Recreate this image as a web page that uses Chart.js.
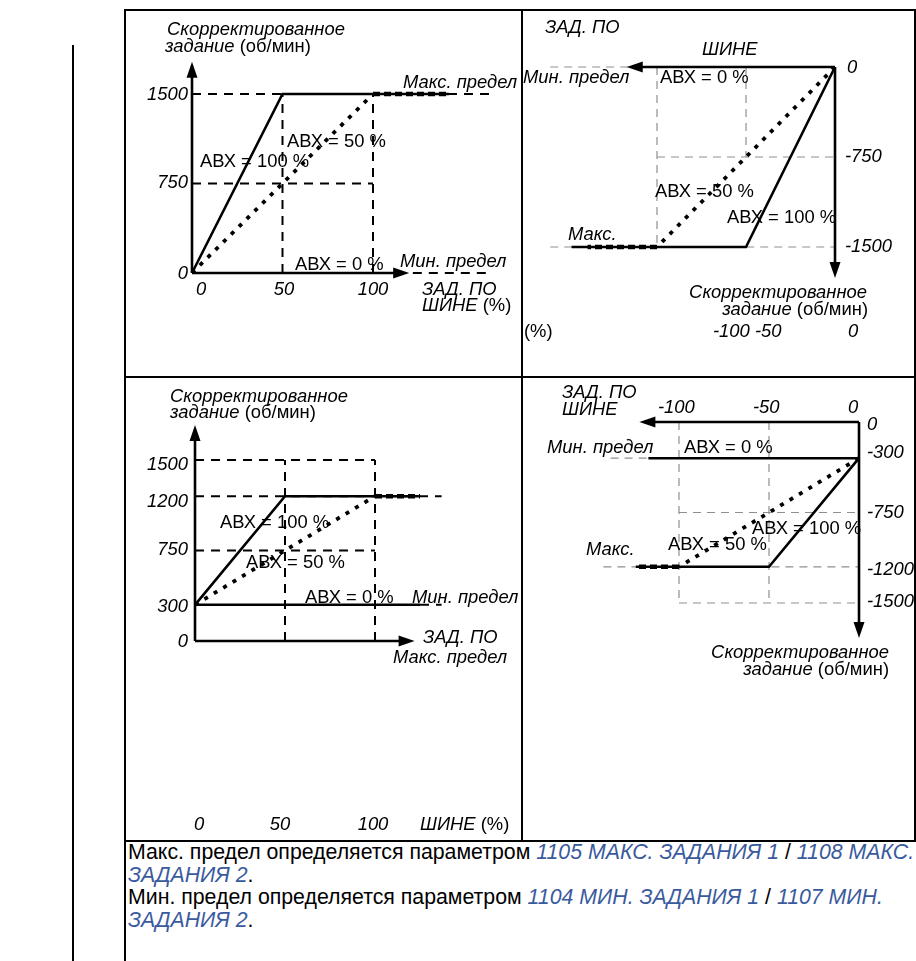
<!DOCTYPE html>
<html>
<head>
<meta charset="utf-8">
<script src="https://cdn.jsdelivr.net/npm/chart.js@4.4.0/dist/chart.umd.min.js"></script>
<style>
  body { margin: 0; background: #fff; }
  #page { position: relative; width: 916px; height: 961px; overflow: hidden;
          font-family: "Liberation Sans", Arial, sans-serif; }
  .ln { position: absolute; background: #000; }
  canvas { position: absolute; }
  #note { position: absolute; left: 128px; top: 841px; font-size: 21.3px; line-height: 22.5px;
          white-space: nowrap; color: #000; }
  .ref { color: #3a5a9e; font-style: italic; }
</style>
</head>
<body>
<div id="page">
  <!-- frame -->
  <div class="ln" style="left:72px;top:45px;width:2px;height:916px"></div>
  <div class="ln" style="left:124px;top:9px;width:2px;height:952px"></div>
  <div class="ln" style="left:124px;top:9px;width:792px;height:2px"></div>
  <div class="ln" style="left:521px;top:9px;width:2px;height:833px"></div>
  <div class="ln" style="left:914px;top:9px;width:2px;height:833px"></div>
  <div class="ln" style="left:124px;top:376px;width:792px;height:2px"></div>
  <div class="ln" style="left:124px;top:840px;width:792px;height:2px"></div>

  <canvas id="tl"></canvas>
  <canvas id="tr"></canvas>
  <canvas id="bl"></canvas>
  <canvas id="br"></canvas>

  <div id="note">Макс. предел определяется параметром <span class="ref">1105 МАКС. ЗАДАНИЯ 1</span> / <span class="ref">1108 МАКС.</span><br><span class="ref">ЗАДАНИЯ 2</span>.<br>Мин. предел определяется параметром <span class="ref">1104 МИН. ЗАДАНИЯ 1</span> / <span class="ref">1107 МИН.</span><br><span class="ref">ЗАДАНИЯ 2</span>.</div>
</div>

<script>
// ---- data (x = ЗАД. ПО ШИНЕ %, y = об/мин) ----

// top left: min 0, max 1500
const tlAbx100 = [[0, 0], [50, 1500], [142, 1500]];
const tlAbx50 = [[0, 0], [100, 1500]];
const tlAbx50Tail = [[100, 1500], [142, 1500]];
const tlGuides = [
  [[0, 1500], [166, 1500]],
  [[0, 750], [100, 750]],
  [[50, 0], [50, 1500]],
  [[100, 0], [100, 1500]],
  [[122, 0], [166, 0]]
];
const tlAxisEnd = [120, 1770];

// top right: mirrored, 0 .. -1500
const trAbx100 = [[0, 0], [-50, -1500], [-148, -1500]];
const trAbx50 = [[0, 0], [-100, -1500]];
const trAbx50Tail = [[-100, -1500], [-139, -1500]];
const trGrid = [
  [[-160, 0], [0, 0]],
  [[-100, -750], [0, -750]],
  [[-160, -1500], [0, -1500]],
  [[-100, 0], [-100, -1500]],
  [[-50, 0], [-50, -750]]
];
const trAxisEnd = [-117, -1758];

// bottom left: min 300, max 1200
const blAbx0 = [[0, 300], [125, 300]];
const blAbx100 = [[0, 300], [50, 1200], [125, 1200]];
const blAbx50 = [[0, 300], [100, 1200]];
const blAbx50Tail = [[100, 1200], [125, 1200]];
const blGuides = [
  [[0, 1500], [100, 1500]],
  [[100, 0], [100, 1500]],
  [[50, 0], [50, 1500]],
  [[0, 750], [100, 750]],
  [[0, 1200], [137, 1200]],
  [[125, 300], [137, 300]]
];
const blAxisEnd = [122, 1790];

// bottom right: mirrored, -300 .. -1200
const brAbx0 = [[0, -300], [-117, -300]];
const brAbx100 = [[0, -300], [-50, -1200], [-124, -1200]];
const brAbx50 = [[0, -300], [-100, -1200]];
const brAbx50Tail = [[-100, -1200], [-124, -1200]];
const brGrid = [
  [[-100, 0], [-100, -1500]],
  [[-50, 0], [-50, -1500]],
  [[-138, -300], [0, -300]],
  [[-100, -750], [0, -750]],
  [[-142, -1200], [0, -1200]],
  [[-100, -1500], [0, -1500]]
];
const brAxisEnd = [-122, -1790];

// tick labels
const tlRpmTicks = ['1500', '750', '0'];
const blRpmTicks = ['1500', '1200', '750', '300', '0'];
const trRpmTicks = ['0', '-750', '-1500'];
const brRpmTicks = ['0', '-300', '-750', '-1200', '-1500'];
const pctTicks = ['0', '50', '100'];
const negPctTicks = ['-100', '-50', '0'];

// ---- styles ----
const FAMILY = '"Liberation Sans", Arial, sans-serif';
const FS = 18.4;
const solid = { color: '#000', width: 2.6 };
const dotted = { color: '#000', width: 3.8, dash: [4, 7] };
const tail = { color: '#000', width: 4.6, dash: [7, 4] };
const guide = { color: '#000', width: 2, dash: [9, 7] };
const grid = { color: '#8f8f8f', width: 1.2, dash: [8, 6] };

function line(points, st) {
  return {
    data: points.map(p => ({ x: p[0], y: p[1] })),
    showLine: true, pointRadius: 0, fill: false, tension: 0,
    borderColor: st.color, borderWidth: st.width,
    borderDash: st.dash || [], borderCapStyle: 'butt'
  };
}

const it = t => [t, true];
const rm = t => [t, false];

// value range so that v0 sits at pixel p0 and v1 at p1 (p counted from the low end)
function fit(v0, p0, v1, p1, size) {
  const k = (p1 - p0) / (v1 - v0);
  const min = v0 - p0 / k;
  return { min: min, max: min + size / k };
}

function arrow(ctx, x0, y0, x1, y1) {
  const a = Math.atan2(y1 - y0, x1 - x0), L = 16, H = 5.5;
  ctx.lineWidth = 2.6;
  ctx.beginPath();
  ctx.moveTo(x0, y0);
  ctx.lineTo(x1 - 10 * Math.cos(a), y1 - 10 * Math.sin(a));
  ctx.stroke();
  ctx.beginPath();
  ctx.moveTo(x1, y1);
  ctx.lineTo(x1 - L * Math.cos(a) + H * Math.sin(a), y1 - L * Math.sin(a) - H * Math.cos(a));
  ctx.lineTo(x1 - L * Math.cos(a) - H * Math.sin(a), y1 - L * Math.sin(a) + H * Math.cos(a));
  ctx.closePath();
  ctx.fill();
}

function drawRuns(ctx, runs, x, y, align) {
  let w = 0;
  runs.forEach(r => { ctx.font = (r[1] ? 'italic ' : '') + FS + 'px ' + FAMILY; w += ctx.measureText(r[0]).width; });
  let cx = align === 'right' ? x - w : align === 'center' ? x - w / 2 : x;
  runs.forEach(r => {
    ctx.font = (r[1] ? 'italic ' : '') + FS + 'px ' + FAMILY;
    ctx.fillText(r[0], cx, y);
    cx += ctx.measureText(r[0]).width;
  });
}

function build(id, cell, fx, fy, datasets, axisEnd, labels) {
  const canvas = document.getElementById(id);
  canvas.width = cell.w;
  canvas.height = cell.h;
  canvas.style.left = cell.left + 'px';
  canvas.style.top = cell.top + 'px';
  const xr = fit(fx[0], fx[1] - cell.left, fx[2], fx[3] - cell.left, cell.w);
  const bottom = cell.top + cell.h;
  const yr = fit(fy[0], bottom - fy[1], fy[2], bottom - fy[3], cell.h);

  // axes with arrow heads + all the text, placed after the lines
  const decor = {
    id: 'decor',
    afterDatasetsDraw(chart) {
      const ctx = chart.ctx, sx = chart.scales.x, sy = chart.scales.y;
      ctx.save();
      ctx.fillStyle = '#000';
      ctx.strokeStyle = '#000';
      ctx.setLineDash([]);
      const ox = sx.getPixelForValue(0), oy = sy.getPixelForValue(0);
      arrow(ctx, ox, oy, sx.getPixelForValue(axisEnd[0]), oy);
      arrow(ctx, ox, oy, ox, sy.getPixelForValue(axisEnd[1]));
      ctx.textBaseline = 'alphabetic';
      labels.forEach(l => drawRuns(ctx, l[3], l[0] - cell.left, l[1] - cell.top, l[2]));
      ctx.restore();
    }
  };

  return new Chart(canvas, {
    type: 'scatter',
    data: { datasets: datasets },
    options: {
      responsive: false,
      animation: false,
      events: [],
      layout: { padding: 0 },
      plugins: { legend: { display: false }, tooltip: { enabled: false } },
      scales: {
        x: { type: 'linear', display: false, bounds: 'data', min: xr.min, max: xr.max },
        y: { type: 'linear', display: false, bounds: 'data', min: yr.min, max: yr.max }
      }
    },
    plugins: [decor]
  });
}

// ---- top left ----
build('tl', { left: 126, top: 11, w: 395, h: 365 },
  [0, 192, 100, 373], [0, 273, 1500, 94],
  [line(tlAbx100, solid), line(tlAbx50Tail, tail), line(tlAbx50, dotted)]
    .concat(tlGuides.map(g => line(g, guide))),
  tlAxisEnd,
  [
    [167, 35, 'left', [it('Скорректированное')]],
    [165, 52, 'left', [it('задание'), rm(' (об/мин)')]],
    ...tlRpmTicks.map((t, i) => [188, [100, 188, 279][i], 'right', [it(t)]]),
    ...pctTicks.map((t, i) => [[201, 284, 373][i], 295, 'center', [it(t)]]),
    [422, 295, 'left', [it('ЗАД. ПО')]],
    [422, 311, 'left', [it('ШИНЕ'), rm(' (%)')]],
    [403, 88, 'left', [it('Макс. предел')]],
    [400, 267, 'left', [it('Мин. предел')]],
    [287, 147, 'left', [rm('АВХ = 50 %')]],
    [200, 167, 'left', [rm('АВХ = 100 %')]],
    [295, 270, 'left', [rm('АВХ = 0 %')]]
  ]);

// ---- top right ----
build('tr', { left: 523, top: 11, w: 391, h: 365 },
  [0, 835, -100, 657], [0, 67, -1500, 247],
  [line(trAbx100, solid), line(trAbx50Tail, tail), line(trAbx50, dotted)]
    .concat(trGrid.map(g => line(g, grid))),
  trAxisEnd,
  [
    [545, 33, 'left', [it('ЗАД. ПО')]],
    [702, 55, 'left', [it('ШИНЕ')]],
    ...trRpmTicks.map((t, i) => [[847, 845, 845][i], [73, 162, 252][i], 'left', [it(t)]]),
    [523, 83, 'left', [it('Мин. предел')]],
    [660, 83, 'left', [rm('АВХ = 0 %')]],
    [655, 197, 'left', [rm('АВХ = 50 %')]],
    [727, 223, 'left', [rm('АВХ = 100 %')]],
    [568, 240, 'left', [it('Макс.')]],
    [867, 298, 'right', [it('Скорректированное')]],
    [868, 315, 'right', [it('задание'), rm(' (об/мин)')]],
    [524, 337, 'left', [rm('(%)')]],
    [713, 337, 'left', [it(negPctTicks[0] + ' ' + negPctTicks[1])]],
    [848, 337, 'left', [it(negPctTicks[2])]]
  ]);

// ---- bottom left ----
build('bl', { left: 126, top: 378, w: 395, h: 462 },
  [0, 195, 100, 375], [0, 641, 1500, 460],
  [line(blAbx0, solid), line(blAbx100, solid), line(blAbx50Tail, tail), line(blAbx50, dotted)]
    .concat(blGuides.map(g => line(g, guide))),
  blAxisEnd,
  [
    [170, 402, 'left', [it('Скорректированное')]],
    [170, 418, 'left', [it('задание'), rm(' (об/мин)')]],
    ...blRpmTicks.map((t, i) => [188, [470, 507, 555, 612, 647][i], 'right', [it(t)]]),
    [220, 528, 'left', [rm('АВХ = 100 %')]],
    [246, 568, 'left', [rm('АВХ = 50 %')]],
    [305, 603, 'left', [rm('АВХ = 0 %')]],
    [412, 603, 'left', [it('Мин. предел')]],
    [423, 643, 'left', [it('ЗАД. ПО')]],
    [393, 663, 'left', [it('Макс. предел')]],
    ...pctTicks.map((t, i) => [[199, 280, 373][i], 830, 'center', [it(t)]]),
    [420, 830, 'left', [it('ШИНЕ'), rm(' (%)')]]
  ]);

// ---- bottom right ----
build('br', { left: 523, top: 378, w: 391, h: 462 },
  [0, 859, -100, 679], [0, 422, -1500, 603],
  [line(brAbx0, solid), line(brAbx100, solid), line(brAbx50Tail, tail), line(brAbx50, dotted)]
    .concat(brGrid.map(g => line(g, grid))),
  brAxisEnd,
  [
    [562, 398, 'left', [it('ЗАД. ПО')]],
    [562, 415, 'left', [it('ШИНЕ')]],
    ...negPctTicks.map((t, i) => [[658, 753, 848][i], 413, 'left', [it(t)]]),
    ...brRpmTicks.map((t, i) => [867, [430, 458, 518, 575, 607][i], 'left', [it(t)]]),
    [547, 453, 'left', [it('Мин. предел')]],
    [684, 453, 'left', [rm('АВХ = 0 %')]],
    [752, 534, 'left', [rm('АВХ = 100 %')]],
    [668, 550, 'left', [rm('АВХ = 50 %')]],
    [586, 555, 'left', [it('Макс.')]],
    [889, 658, 'right', [it('Скорректированное')]],
    [889, 675, 'right', [it('задание'), rm(' (об/мин)')]]
  ]);
</script>
</body>
</html>
